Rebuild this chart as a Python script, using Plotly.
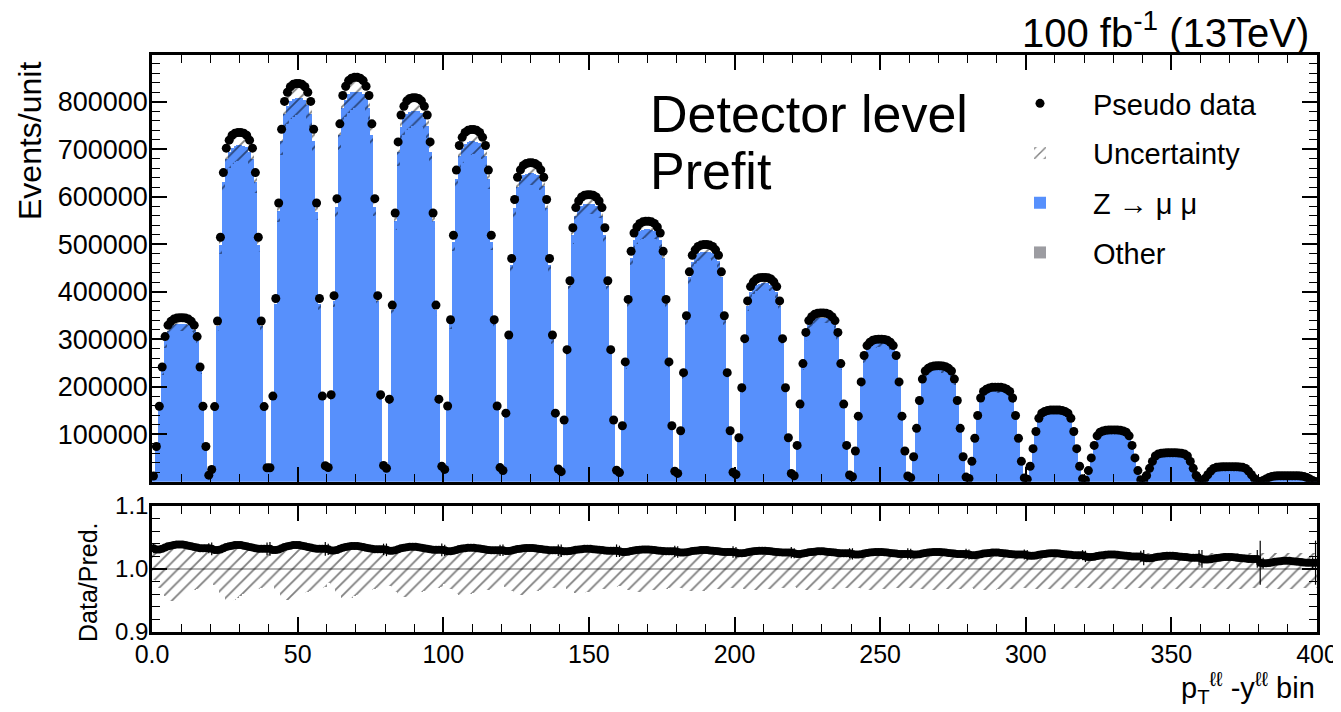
import numpy as np
import plotly.graph_objects as go

# ---------------- data ----------------
# peak of the pseudo-data dome in each pT bin (20 pT bins x 20 y bins = 400 bins)
pt_peak_data = [345000, 735000, 838000, 851000, 808000, 741000, 671000, 604000, 548000, 499000,
                430000, 355000, 300000, 244000, 199000, 151000, 109000, 61000, 31600, 12600]
# shape of the dome across the 20 rapidity bins (fraction of the peak)
y_shape = [0.035, 0.215, 0.46, 0.70, 0.885, 0.955, 0.978, 0.992, 0.998, 1.0,
           1.0, 0.998, 0.992, 0.978, 0.955, 0.885, 0.70, 0.46, 0.215, 0.04]

# data / prediction: level per pT bin and wiggle across rapidity bins
ratio_level = [1.035, 1.034, 1.034, 1.033, 1.032, 1.031, 1.031, 1.030, 1.029, 1.028,
               1.027, 1.026, 1.025, 1.025, 1.024, 1.023, 1.021, 1.019, 1.017, 1.011]
ratio_wiggle = [-0.002, -0.004, -0.004, -0.003, -0.001, 0.001, 0.002, 0.003, 0.004, 0.004,
                0.004, 0.003, 0.002, 0.001, 0.0, -0.001, -0.002, -0.002, -0.002, -0.002]
ratio_wiggle_amp = [1.0, 1.0, 1.0, 0.9, 0.8, 0.7, 0.6, 0.5, 0.5, 0.5,
                    0.5, 0.5, 0.5, 0.5, 0.5, 0.5, 0.5, 0.5, 0.5, 0.5]

# half-length of the ratio error bars at the edge bins of each pT bin,
# and their size across the rapidity bins relative to the edge
ratio_err_edge = [0.008, 0.010, 0.011, 0.009, 0.010, 0.009, 0.009, 0.010, 0.009, 0.009,
                  0.009, 0.008, 0.009, 0.008, 0.008, 0.008, 0.009, 0.012, 0.014, 0.035]
ratio_err_shape = [1.0, 0.25, 0.1, 0.06, 0.04, 0.03, 0.03, 0.03, 0.03, 0.03,
                   0.03, 0.03, 0.03, 0.03, 0.03, 0.04, 0.06, 0.1, 0.25, 1.0]

# relative uncertainty of the prediction (upper / lower)
unc_up = [0.036, 0.036, 0.035, 0.034, 0.033, 0.032, 0.031, 0.030, 0.029, 0.028,
          0.028, 0.027, 0.027, 0.026, 0.026, 0.025, 0.025, 0.025, 0.025, 0.025]
unc_dn_base = [0.018, 0.020, 0.021, 0.022, 0.023, 0.024, 0.025, 0.026, 0.027, 0.028,
               0.028, 0.029, 0.029, 0.030, 0.030, 0.030, 0.030, 0.030, 0.030, 0.030]
unc_dn_dip = [0.032, 0.030, 0.028, 0.025, 0.022, 0.019, 0.016, 0.013, 0.010, 0.008,
              0.006, 0.005, 0.004, 0.003, 0.003, 0.002, 0.002, 0.002, 0.002, 0.002]
unc_dip_shape = [0.0, 0.2, 0.4, 0.6, 0.8, 0.95, 1.0, 1.0, 0.95, 0.85,
                 0.75, 0.65, 0.6, 0.55, 0.5, 0.45, 0.4, 0.35, 0.3, 0.25]

x_tick_vals = [0, 50, 100, 150, 200, 250, 300, 350, 400]
x_tick_text = ["0.0", "50", "100", "150", "200", "250", "300", "350", "400"]
y_tick_vals = [100000, 200000, 300000, 400000, 500000, 600000, 700000, 800000]
r_tick_vals = [0.9, 1.0, 1.1]
r_tick_text = ["0.9", "1.0", "1.1"]

# ---------------- assemble per-bin arrays ----------------
peak = np.array(pt_peak_data, dtype=float)
shape = np.array(y_shape)
data = np.outer(peak, shape).ravel()
ratio = (np.array(ratio_level)[:, None]
         + np.array(ratio_wiggle_amp)[:, None] * np.array(ratio_wiggle)[None, :]).ravel()
pred = data / ratio
other = np.zeros_like(pred)
up = np.repeat(np.array(unc_up), 20)
dn = (np.array(unc_dn_base)[:, None]
      + np.array(unc_dn_dip)[:, None] * np.array(unc_dip_shape)[None, :]).ravel()
ratio_err = np.outer(np.array(ratio_err_edge), np.array(ratio_err_shape)).ravel()
data_err = ratio_err * pred
xc = np.arange(400) + 0.5

BLUE = "#5790fc"
GREY = "#9c9ca1"
FONT = "Liberation Sans, Arial, sans-serif"
hatch = dict(shape="/", fgcolor="black", bgcolor="rgba(0,0,0,0)", size=9, solidity=0.2)

fig = go.Figure()
fig.add_trace(go.Bar(x=xc, y=other, width=1, name="Other", marker=dict(color=GREY, line=dict(width=0)),
                     xaxis="x", yaxis="y", legendrank=4, legendgroup="d"))
fig.add_trace(go.Bar(x=xc, y=pred, width=1, name="Z \u2192 \u03bc \u03bc",
                     marker=dict(color=BLUE, line=dict(width=0)),
                     xaxis="x", yaxis="y", legendrank=3, legendgroup="c"))
fig.add_trace(go.Bar(x=xc, y=pred * (up + dn), base=pred * (1 - dn), width=1, name="Uncertainty",
                     marker=dict(color="rgba(0,0,0,0)", line=dict(width=0), pattern=hatch),
                     xaxis="x", yaxis="y", legendrank=2, legendgroup="b"))
fig.add_trace(go.Scatter(x=xc, y=data, mode="markers", name="Pseudo data",
                         marker=dict(color="black", size=9),
                         error_y=dict(type="data", array=data_err, color="black", thickness=1.2, width=0),
                         xaxis="x", yaxis="y", legendrank=1, legendgroup="a"))

# ratio panel
fig.add_trace(go.Bar(x=xc, y=up + dn, base=1 - dn, width=1, showlegend=False,
                     marker=dict(color="rgba(0,0,0,0)", line=dict(width=0), pattern=hatch),
                     xaxis="x2", yaxis="y2"))
fig.add_trace(go.Scatter(x=xc, y=ratio, mode="markers", showlegend=False,
                         marker=dict(color="black", size=8),
                         error_y=dict(type="data", array=ratio_err, color="black", thickness=1.2, width=0),
                         xaxis="x2", yaxis="y2"))

axis_common = dict(showline=True, linecolor="black", linewidth=2.5, mirror="allticks",
                   ticks="inside", tickcolor="black", tickwidth=1.5, showgrid=False, zeroline=False,
                   automargin=False)

# the page body adds an 8 px offset; the figure is sized so the plot lands on the reference pixels
OFF = 8
W, H = 1341 - OFF, 712 - OFF
L, R, T, B = 152 - OFF, W - (1317 - OFF), 55 - OFF, H - (632 - OFF)
H_TOT = 632 - 55
main_lo = (632 - 481.7) / H_TOT
ratio_hi = (632 - 506) / H_TOT

fig.update_layout(
    width=W, height=H,
    margin=dict(l=L, r=R, t=T, b=B, autoexpand=False),
    plot_bgcolor="white", paper_bgcolor="white",
    font=dict(family=FONT, color="black"),
    barmode="overlay", bargap=0,
    showlegend=True,
    legend=dict(x=(987 - 152) / 1165, y=1 - (78 - 55) / H_TOT, xanchor="left", yanchor="top",
                font=dict(size=29, family=FONT), bgcolor="rgba(0,0,0,0)",
                itemwidth=96, tracegroupgap=9, traceorder="grouped"),
    xaxis=dict(domain=[0, 1], anchor="y", range=[0, 400], showticklabels=False,
               tickmode="array", tickvals=x_tick_vals, ticklen=15,
               minor=dict(dtick=10, tick0=0, ticklen=8, ticks="inside", tickcolor="black", tickwidth=1.2),
               **axis_common),
    yaxis=dict(domain=[main_lo, 1], anchor="x", range=[0, 898000],
               tickmode="array", tickvals=y_tick_vals, ticktext=[str(v) for v in y_tick_vals],
               ticklen=15, tickfont=dict(size=27), ticklabelstandoff=-4,
               minor=dict(dtick=20000, tick0=0, ticklen=8, ticks="inside", tickcolor="black", tickwidth=1.2),
               **axis_common),
    xaxis2=dict(domain=[0, 1], anchor="y2", range=[0, 400], matches="x",
                tickmode="array", tickvals=x_tick_vals, ticktext=x_tick_text, ticklen=15,
                tickfont=dict(size=25), ticklabelstandoff=-2,
                minor=dict(dtick=10, tick0=0, ticklen=8, ticks="inside", tickcolor="black", tickwidth=1.2),
                **axis_common),
    yaxis2=dict(domain=[0, ratio_hi], anchor="x2", range=[0.9, 1.1],
                tickmode="array", tickvals=r_tick_vals, ticktext=r_tick_text, ticklen=15,
                tickfont=dict(size=24), ticklabelstandoff=-4,
                minor=dict(dtick=0.02, tick0=0.9, ticklen=8, ticks="inside", tickcolor="black", tickwidth=1.2),
                **axis_common),
)

fig.add_shape(type="line", xref="x2", yref="y2", x0=0, x1=400, y0=1.0, y1=1.0,
              line=dict(color="#b0b0b0", width=2), layer="below")


def py(ypx):
    return 1 - (ypx - 55) / H_TOT


def px(xpx):
    return (xpx - 152) / 1165


annots = [
    dict(text="Detector level", x=px(648), y=py(114), xanchor="left", yanchor="middle", font=dict(size=52)),
    dict(text="Prefit", x=px(648), y=py(171), xanchor="left", yanchor="middle", font=dict(size=52)),
    dict(text="100 fb<sup>-1</sup> (13TeV)", x=px(1311), y=py(30), xanchor="right", yanchor="middle",
         font=dict(size=40)),
    dict(text="Events/unit", x=px(30), y=py(141), xanchor="center", yanchor="middle", textangle=-90,
         font=dict(size=32)),
    dict(text="Data/Pred.", x=px(88), y=py(582), xanchor="center", yanchor="middle", textangle=-90,
         font=dict(size=25)),
    dict(text="p<sub>T</sub><sup>\u2113\u2113</sup> -y<sup>\u2113\u2113</sup> bin", x=px(1317), y=py(688),
         xanchor="right", yanchor="middle", font=dict(size=29)),
]
for a in annots:
    fig.add_annotation(xref="paper", yref="paper", showarrow=False, **a)

fig.write_html("out.html")
